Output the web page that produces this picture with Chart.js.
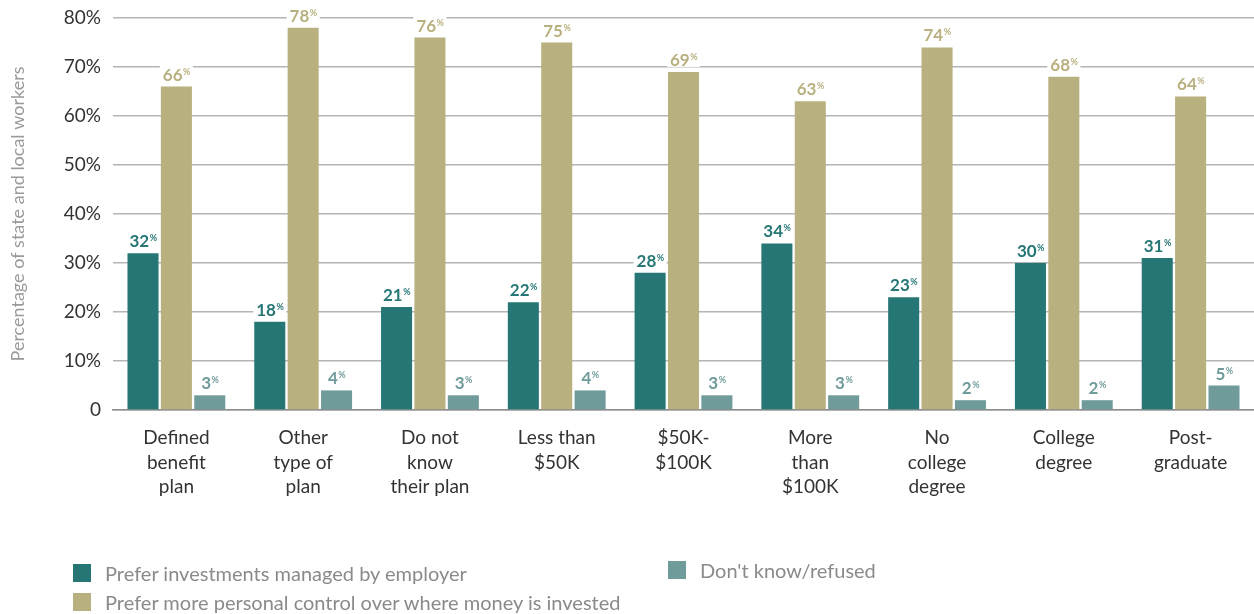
<!DOCTYPE html>
<html>
<head>
<meta charset="utf-8">
<script src="https://cdn.jsdelivr.net/npm/chart.js@4/dist/chart.umd.min.js"></script>
<style>
  html, body { margin: 0; padding: 0; background: #fff; }
  #wrap { position: relative; width: 1254px; height: 614px; font-family: Lato, "Open Sans", sans-serif; }
  .key { position: absolute; color: #8a8a8a; font-size: 20px; line-height: 22px; white-space: nowrap; }
  .key span { position: absolute; left: -32px; top: 2px; width: 18px; height: 18px; }
</style>
</head>
<body>
<div id="wrap">
  <canvas id="myChart" width="1254" height="614"></canvas>
  <div class="key" style="left:105px; top:562px;"><span style="background:#277676"></span>Prefer investments managed by employer</div>
  <div class="key" style="left:105px; top:591px;"><span style="background:#b8b07f"></span>Prefer more personal control over where money is invested</div>
  <div class="key" style="left:700px; top:559px;"><span style="background:#6f9b9a"></span>Don't know/refused</div>
</div>
<script>
const categories = [
  ['Defined', 'benefit', 'plan'],
  ['Other', 'type of', 'plan'],
  ['Do not', 'know', 'their plan'],
  ['Less than', '$50K'],
  ['$50K-', '$100K'],
  ['More', 'than', '$100K'],
  ['No', 'college', 'degree'],
  ['College', 'degree'],
  ['Post-', 'graduate']
];
const employer = [32, 18, 21, 22, 28, 34, 23, 30, 31];
const personal = [66, 78, 76, 75, 69, 63, 74, 68, 64];
const dontKnow = [3, 4, 3, 4, 3, 3, 2, 2, 5];
const yTicks = [0, 10, 20, 30, 40, 50, 60, 70, 80];

const teal = '#277676', gold = '#b8b07f', grey = '#6f9b9a';

// value labels: bold number, small raised "%" and a white box that cuts the grid line
const valueLabels = {
  id: 'valueLabels',
  afterDatasetsDraw(chart) {
    const c = chart.ctx;
    chart.data.datasets.forEach((ds, i) => {
      chart.getDatasetMeta(i).data.forEach((bar, j) => {
        const num = String(ds.data[j]);
        c.save();
        c.font = 'bold 17px Lato, sans-serif';
        const w1 = c.measureText(num).width;
        c.font = 'bold 9px Lato, sans-serif';
        const w2 = c.measureText('%').width;
        const x0 = bar.x - (w1 + w2) / 2;
        const base = bar.y - 6;
        c.fillStyle = '#fff';
        c.fillRect(x0 - 3, base - 15, w1 + w2 + 6, 16);
        c.fillStyle = ds.backgroundColor;
        c.textBaseline = 'alphabetic';
        c.textAlign = 'left';
        c.font = 'bold 17px Lato, sans-serif';
        c.fillText(num, x0, base);
        c.font = 'bold 9px Lato, sans-serif';
        c.fillText('%', x0 + w1 + 0.5, base - 6);
        c.restore();
      });
    });
  }
};

new Chart(document.getElementById('myChart').getContext('2d'), {
  type: 'bar',
  data: {
    labels: categories,
    datasets: [
      { label: 'Prefer investments managed by employer', data: employer, backgroundColor: teal },
      { label: 'Prefer more personal control over where money is invested', data: personal, backgroundColor: gold },
      { label: "Don't know/refused", data: dontKnow, backgroundColor: grey }
    ]
  },
  options: {
    responsive: false,
    animation: false,
    layout: { padding: { top: 18, right: 0, left: 0, bottom: 0 } },
    datasets: { bar: { categoryPercentage: 0.79, barPercentage: 0.93 } },
    plugins: { legend: { display: false }, tooltip: { enabled: false } },
    scales: {
      x: {
        grid: { display: false },
        border: { color: '#8c8c8c', width: 1.5 },
        ticks: { color: '#333', font: { family: 'Lato', size: 19, lineHeight: 1.28 }, padding: 8, maxRotation: 0, autoSkip: false },
        afterFit: s => { s.height = 204; }
      },
      y: {
        min: 0, max: 80,
        afterBuildTicks: s => { s.ticks = yTicks.map(v => ({ value: v })); },
        grid: { color: '#b4b4b4', lineWidth: 1.5, drawTicks: false },
        border: { display: false },
        ticks: {
          color: '#333', padding: 12, font: { family: 'Lato', size: 19 },
          callback: v => v === 0 ? '0' : v + '%'
        },
        title: {
          display: true, text: 'Percentage of state and local workers',
          color: '#9a9a9a', font: { family: 'Lato', size: 18 }, padding: { top: 7, bottom: 0 }
        },
        afterFit: s => { s.width = 113; s.paddingTop = 0; s.paddingBottom = 0; }
      }
    }
  },
  plugins: [valueLabels]
});
</script>
</body>
</html>
